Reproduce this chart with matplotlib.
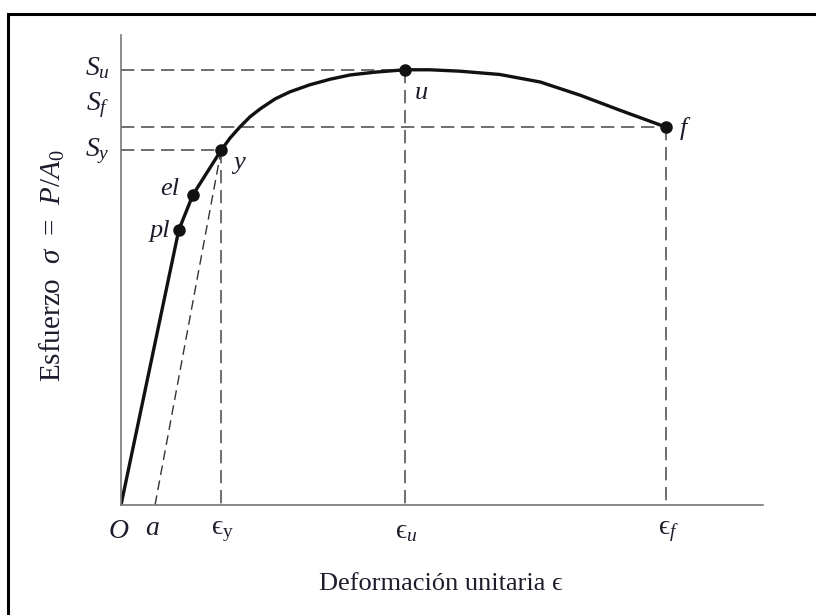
import matplotlib.pyplot as plt
from matplotlib.patches import Rectangle

plt.rcParams['font.family'] = ['Liberation Serif', 'DejaVu Serif']
plt.rcParams['mathtext.fontset'] = 'custom'
plt.rcParams['mathtext.rm'] = 'Liberation Serif'
plt.rcParams['mathtext.it'] = 'Liberation Serif:italic'

# stress-strain curve (arbitrary units, 0-100)
strain = [0.0, 9.0, 11.2, 15.6, 17.0, 18.5, 20.1, 21.7, 24.0, 26.3, 29.4, 32.6,
          35.7, 39.6, 44.2, 48.1, 52.8, 59.0, 65.3, 71.5, 77.7, 84.9]
stress = [0.0, 58.5, 66.0, 75.5, 78.1, 80.4, 82.6, 84.3, 86.4, 87.9, 89.4, 90.6,
          91.5, 92.1, 92.6, 92.6, 92.3, 91.6, 90.0, 87.2, 84.0, 80.4]

# named points
pt_names = ['pl', 'el', 'y', 'u', 'f']
pt_x = [9.0, 11.2, 15.6, 44.2, 84.9]
pt_y = [58.5, 66.0, 75.5, 92.6, 80.4]
strain_a = 5.3

ink = '#1c1c2c'
dash_col = '#555555'

fig = plt.figure(figsize=(8.16, 6.15), dpi=100)
ax = fig.add_axes([121 / 816, 1 - 505 / 615, 642 / 816, 470 / 615])
ax.set_xlim(0, 100)
ax.set_ylim(0, 100)
for s in ['top', 'right']:
    ax.spines[s].set_visible(False)
for s in ['left', 'bottom']:
    ax.spines[s].set_color('#777777')
    ax.spines[s].set_linewidth(1.2)
ax.set_xticks([])
ax.set_yticks([])

# dashed guide lines
dkw = dict(color=dash_col, lw=1.2, dashes=(8, 4), zorder=1)
xy, yy = pt_x[2], pt_y[2]
xu, yu = pt_x[3], pt_y[3]
xf, yf = pt_x[4], pt_y[4]
ax.plot([0, xy], [yy, yy], **dkw)
ax.plot([0, xu], [yu, yu], **dkw)
ax.plot([0, xf], [yf, yf], **dkw)
ax.plot([xy, xy], [yy, 0], **dkw)
ax.plot([xu, xu], [yu, 0], **dkw)
ax.plot([xf, xf], [yf, 0], **dkw)
ax.plot([strain_a, xy], [0, yy], color='#333333', lw=1.0, dashes=(7, 4), zorder=1)

# curve and points
ax.plot(strain, stress, color='#111111', lw=2.4, solid_joinstyle='round',
        solid_capstyle='round', zorder=2)
ax.plot(pt_x, pt_y, 'o', color='#111111', ms=8, zorder=3)

tkw = dict(textcoords='offset points', fontsize=19, color=ink, style='italic')
ax.annotate('pl', (pt_x[0], pt_y[0]), xytext=(-6, -1), ha='right', va='center', **tkw)
ax.annotate('el', (pt_x[1], pt_y[1]), xytext=(-10, 4), ha='right', va='center', **tkw)
ax.annotate('y', (xy, yy), xytext=(9, -9), ha='left', va='center', **tkw)
ax.annotate('u', (xu, yu), xytext=(12, -17), ha='center', va='center', **tkw)
ax.annotate('f', (xf, yf), xytext=(10, -1), ha='left', va='center', **tkw)

# stress level labels
skw = dict(textcoords='offset points', fontsize=20, color=ink, ha='right', va='center')
ax.annotate(r'$S_u$', (0, yu), xytext=(-8, 1), **skw)
ax.annotate(r'$S_f$', (0, yf), xytext=(-8, 16), **skw)
ax.annotate(r'$S_y$', (0, yy), xytext=(-8, -1), **skw)

# strain labels
bkw = dict(textcoords='offset points', fontsize=20, color=ink, ha='center', va='top')
ax.annotate('O', (0, 0), xytext=(-2, -10), style='italic', **bkw)
ax.annotate('a', (strain_a, 0), xytext=(-2, -8), style='italic', **bkw)
ax.annotate('\u03f5$_{\\mathrm{y}}$', (xy, 0), xytext=(1, -10), **bkw)
ax.annotate('\u03f5$_u$', (xu, 0), xytext=(1, -10), **bkw)
ax.annotate('\u03f5$_f$', (xf, 0), xytext=(2, -10), **bkw)

fig.text(441 / 816, 1 - 584 / 615, 'Deformación unitaria \u03f5', fontsize=19,
         color=ink, ha='center', va='center')
fig.text(52 / 816, 1 - 265 / 615, 'Esfuerzo  $\\sigma$  =  $P/A_{\\mathrm{0}}$', fontsize=21,
         color=ink, ha='center', va='center', rotation=90)

# outer frame, cut off at right and bottom like the scan
fig.patches.append(Rectangle((8 / 816, -0.2), 1.5, 0.2 + (615 - 14) / 615,
                             transform=fig.transFigure, fill=False,
                             edgecolor='black', lw=2.2))

fig.savefig('out.png', dpi=100)
